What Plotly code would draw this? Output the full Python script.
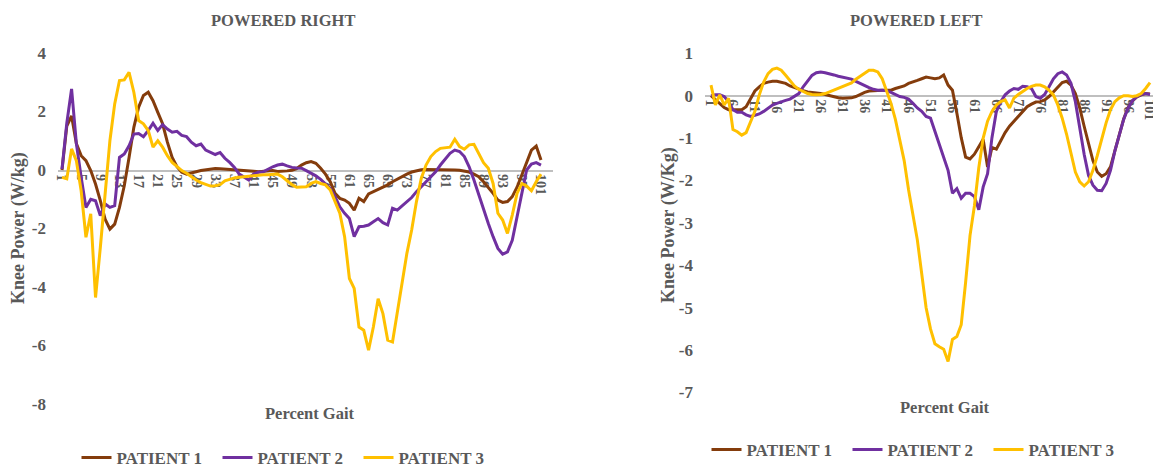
import plotly.graph_objects as go

# ---------------- DATA ----------------
pct = list(range(1, 102))

right_p1 = [0.0, 1.5, 1.85, 0.9, 0.49, 0.32, -0.02, -0.48, -1.05, -1.68,
            -2.02, -1.85, -1.28, -0.54, 0.43, 1.46, 2.15, 2.55, 2.66, 2.37,
            1.97, 1.58, 0.95, 0.43, 0.11, -0.08, -0.14, -0.11, -0.06, -0.02,
            0.01, 0.03, 0.05, 0.04, 0.03, 0.02, 0.02, 0.0, -0.02, -0.03,
            -0.04, -0.06, -0.05, -0.03, -0.02, -0.05, -0.05, -0.03, -0.01, 0.05,
            0.17, 0.25, 0.29, 0.23, 0.06, -0.14, -0.4, -0.8, -0.97, -1.03,
            -1.14, -1.37, -0.97, -1.08, -0.82, -0.74, -0.68, -0.59, -0.51, -0.4,
            -0.31, -0.21, -0.14, -0.07, -0.02, 0.01, 0.02, 0.02, 0.02, 0.02,
            0.01, 0.0, 0.0, -0.01, -0.03, -0.07, -0.14, -0.23, -0.4, -0.59,
            -0.8, -1.03, -1.11, -1.08, -0.91, -0.59, -0.17, 0.29, 0.68, 0.82,
            0.34]
right_p2 = [0.03, 1.6, 2.77, 0.9, -0.25, -1.28, -1.0, -1.05, -1.56, -1.16,
            -1.28, -1.22, 0.43, 0.55, 0.83, 1.23, 1.25, 1.14, 1.35, 1.6,
            1.35, 1.55, 1.4, 1.29, 1.32, 1.18, 1.14, 0.95, 0.83, 0.89,
            0.68, 0.6, 0.53, 0.6, 0.4, 0.26, 0.09, -0.14, -0.25, -0.34,
            -0.14, -0.08, -0.06, 0.03, 0.11, 0.17, 0.2, 0.14, 0.09, 0.07,
            0.06, -0.02, -0.11, -0.2, -0.32, -0.46, -0.63, -0.91, -1.26, -1.48,
            -1.66, -2.28, -1.94, -1.92, -1.88, -1.77, -1.66, -1.8, -1.88, -1.31,
            -1.37, -1.23, -1.08, -0.94, -0.74, -0.57, -0.4, -0.25, -0.06, 0.17,
            0.37, 0.57, 0.68, 0.63, 0.46, 0.11, -0.34, -0.86, -1.37, -1.83,
            -2.28, -2.68, -2.88, -2.8, -2.4, -1.6, -0.8, 0.0, 0.2, 0.25,
            0.17]
right_p3 = [-0.25, -0.3, 0.72, 0.32, -0.71, -2.3, -1.5, -4.36, -2.65, -0.71,
            1.0, 2.26, 3.06, 3.08, 3.34, 2.66, 1.69, 1.58, 1.35, 0.78,
            1.0, 0.78, 0.49, 0.26, 0.11, -0.02, -0.11, -0.23, -0.34, -0.43,
            -0.5, -0.55, -0.54, -0.5, -0.37, -0.31, -0.27, -0.25, -0.23, -0.21,
            -0.18, -0.17, -0.16, -0.16, -0.14, -0.14, -0.23, -0.37, -0.5, -0.59,
            -0.59, -0.57, -0.46, -0.4, -0.46, -0.51, -0.68, -1.08, -1.48, -2.28,
            -3.71, -4.05, -5.37, -5.48, -6.16, -5.37, -4.4, -4.91, -5.82, -5.88,
            -4.91, -3.82, -2.85, -2.05, -1.08, -0.29, 0.17, 0.46, 0.63, 0.74,
            0.76, 0.78, 1.05, 0.8, 0.71, 0.86, 0.88, 0.57, 0.25, 0.06,
            -0.46, -1.48, -1.71, -2.17, -1.54, -0.8, -0.46, -0.55, -0.71, -0.4,
            -0.14]

left_p1 = [0.0, -0.1, -0.2, -0.28, -0.33, -0.33, -0.33, -0.33, -0.26, -0.06,
           0.11, 0.21, 0.29, 0.32, 0.34, 0.34, 0.32, 0.29, 0.23, 0.19,
           0.15, 0.12, 0.09, 0.08, 0.07, 0.05, 0.03, 0.0, -0.03, -0.05,
           -0.06, -0.06, -0.05, -0.02, 0.03, 0.08, 0.11, 0.12, 0.13, 0.13,
           0.13, 0.13, 0.17, 0.2, 0.23, 0.29, 0.32, 0.36, 0.4, 0.44,
           0.42, 0.4, 0.42, 0.49, 0.25, 0.13, -0.41, -0.99, -1.45, -1.49,
           -1.38, -1.22, -1.03, -1.68, -1.22, -1.26, -1.07, -0.87, -0.72, -0.6,
           -0.49, -0.37, -0.26, -0.2, -0.15, -0.14, -0.1, -0.02, 0.09, 0.21,
           0.31, 0.34, 0.25, 0.05, -0.29, -0.72, -1.14, -1.53, -1.8, -1.9,
           -1.84, -1.68, -1.3, -0.9, -0.55, -0.28, -0.12, -0.03, 0.02, 0.05,
           0.04]
left_p2 = [0.0, 0.02, 0.02, -0.02, -0.14, -0.33, -0.39, -0.39, -0.45, -0.49,
           -0.46, -0.43, -0.37, -0.29, -0.22, -0.18, -0.14, -0.11, -0.08, -0.02,
           0.05, 0.21, 0.36, 0.48, 0.54, 0.56, 0.54, 0.52, 0.49, 0.46,
           0.44, 0.42, 0.39, 0.34, 0.29, 0.23, 0.19, 0.15, 0.13, 0.13,
           0.12, 0.08, 0.02, -0.02, -0.04, -0.08, -0.18, -0.29, -0.37, -0.49,
           -0.53, -0.83, -1.18, -1.45, -1.76, -2.3, -2.19, -2.42, -2.3, -2.3,
           -2.38, -2.69, -2.15, -1.84, -0.99, -0.37, -0.14, 0.02, 0.11, 0.17,
           0.15, 0.22, 0.21, 0.17, -0.02, -0.06, 0.03, 0.21, 0.4, 0.52,
           0.56, 0.49, 0.29, -0.14, -0.76, -1.38, -1.88, -2.11, -2.23, -2.24,
           -2.07, -1.76, -1.3, -0.91, -0.56, -0.29, -0.12, -0.02, 0.03, 0.05,
           0.03]
left_p3 = [0.25, -0.22, 0.02, -0.22, -0.06, -0.8, -0.85, -0.93, -0.87, -0.6,
           -0.37, 0.02, 0.32, 0.52, 0.62, 0.65, 0.6, 0.48, 0.34, 0.23,
           0.15, 0.09, 0.05, 0.03, 0.02, 0.03, 0.05, 0.09, 0.13, 0.17,
           0.21, 0.25, 0.3, 0.39, 0.46, 0.54, 0.6, 0.6, 0.56, 0.4,
           0.13, -0.18, -0.56, -1.03, -1.53, -2.22, -2.84, -3.4, -4.2, -5.0,
           -5.5, -5.85, -5.92, -5.98, -6.27, -5.75, -5.68, -5.4, -4.4, -3.3,
           -2.6, -1.7, -1.0, -0.6, -0.37, -0.22, -0.14, -0.1, -0.29, -0.06,
           0.03, 0.11, 0.17, 0.22, 0.25, 0.25, 0.21, 0.13, 0.02, -0.22,
           -0.53, -0.91, -1.38, -1.8, -2.03, -2.13, -2.03, -1.76, -1.41, -1.03,
           -0.64, -0.33, -0.14, -0.05, 0.0, 0.0, -0.02, 0.0, 0.05, 0.17,
           0.31]

series_names = ["PATIENT 1", "PATIENT 2", "PATIENT 3"]
colors = ["#843c0c", "#7030a0", "#ffc000"]

right_ticks = list(range(1, 102, 4))
left_ticks = list(range(1, 102, 5))
right_yticks = [4, 2, 0, -2, -4, -6, -8]
left_yticks = [1, 0, -1, -2, -3, -4, -5, -6, -7]

# ---------------- FIGURE ----------------
# the page body keeps its default 8px margin, so the figure is drawn
# 8px in from the window's corner; all positions below are window pixels
OFF = 8
WIN_W, WIN_H = 1161, 467
W, H = WIN_W - OFF, WIN_H - OFF
FONT = "Liberation Serif"
GRAY = "#595959"

def py(pix):
    return 1 - (pix - OFF) / H

def px(pix):
    return (pix - OFF) / W

fig = go.Figure()

for name, col, ys in zip(series_names, colors, [right_p1, right_p2, right_p3]):
    fig.add_trace(go.Scatter(x=pct, y=ys, mode="lines", name=name,
                             line=dict(color=col, width=3),
                             xaxis="x", yaxis="y", legend="legend"))
for name, col, ys in zip(series_names, colors, [left_p1, left_p2, left_p3]):
    fig.add_trace(go.Scatter(x=pct, y=ys, mode="lines", name=name,
                             line=dict(color=col, width=3),
                             xaxis="x2", yaxis="y2", legend="legend2"))

xtickfont = dict(family=FONT, size=14, color=GRAY, weight="bold")
ytickfont = dict(family=FONT, size=17, color=GRAY, weight="bold")

# left panel geometry (window pixels)
L_x0, L_x1 = 58, 553
L_c1, L_step = 62, 4.79
L_ytop, L_ybot = 53, 404
L_zero = 170.5
# right panel geometry
R_x0, R_x1 = 705, 1160
R_c1, R_step = 711, 4.39
R_ytop, R_ybot = 53.3, 392.5
R_zero = 95.7

common_x = dict(tickmode="array", tickangle=90, tickfont=xtickfont, ticks="",
                showgrid=False, zeroline=False, showline=True,
                linecolor="#bfbfbf", linewidth=1.5, layer="below traces",
                automargin=False, anchor="free")
common_y = dict(tickmode="array", tickfont=ytickfont, ticks="",
                showgrid=False, zeroline=False, showline=False,
                automargin=False, ticklabelstandoff=11)

fig.update_layout(
    width=W, height=H,
    margin=dict(l=0, r=0, t=0, b=0, autoexpand=False),
    paper_bgcolor="white", plot_bgcolor="white",
    font=dict(family=FONT, color=GRAY),
    xaxis=dict(domain=[px(L_x0), px(L_x1)],
               range=[1 + (L_x0 - L_c1) / L_step, 1 + (L_x1 - L_c1) / L_step],
               position=py(L_zero), tickvals=right_ticks,
               ticktext=[str(v) for v in right_ticks], **common_x),
    yaxis=dict(domain=[py(L_ybot), py(L_ytop)], range=[-8, 4],
               tickvals=right_yticks, ticktext=[str(v) for v in right_yticks],
               anchor="x", **common_y),
    xaxis2=dict(domain=[px(R_x0), px(R_x1)],
                range=[1 + (R_x0 - R_c1) / R_step, 1 + (R_x1 - R_c1) / R_step],
                position=py(R_zero), tickvals=left_ticks,
                ticktext=[str(v) for v in left_ticks], **common_x),
    yaxis2=dict(domain=[py(R_ybot), py(R_ytop)], range=[-7, 1],
                tickvals=left_yticks, ticktext=[str(v) for v in left_yticks],
                anchor="x2", **common_y),
    legend=dict(orientation="h", x=px(288), y=py(458), xanchor="center",
                yanchor="middle", entrywidth=96,
                font=dict(family=FONT, size=17, color=GRAY, weight="bold"),
                bgcolor="rgba(0,0,0,0)"),
    legend2=dict(orientation="h", x=px(918), y=py(450), xanchor="center",
                 yanchor="middle", entrywidth=96,
                 font=dict(family=FONT, size=17, color=GRAY, weight="bold"),
                 bgcolor="rgba(0,0,0,0)"),
)

annotations = [
    dict(text="<b>POWERED RIGHT</b>", x=px(283), y=py(20), size=16.5),
    dict(text="<b>POWERED LEFT</b>", x=px(916), y=py(20), size=16.5),
    dict(text="<b>Percent Gait</b>", x=px(310), y=py(413), size=16.5),
    dict(text="<b>Percent Gait</b>", x=px(945), y=py(407), size=16.5),
    dict(text="<b>Knee Power (W/kg)</b>", x=px(18), y=py(228), textangle=-90, size=18),
    dict(text="<b>Knee Power (W/Kg)</b>", x=px(668), y=py(225), textangle=-90, size=18),
]
for a in annotations:
    size = a.pop("size")
    a.update(xref="paper", yref="paper", showarrow=False,
             font=dict(family=FONT, size=size, color=GRAY),
             xanchor="center", yanchor="middle")
fig.update_layout(annotations=annotations)

fig.write_html("out.html")
